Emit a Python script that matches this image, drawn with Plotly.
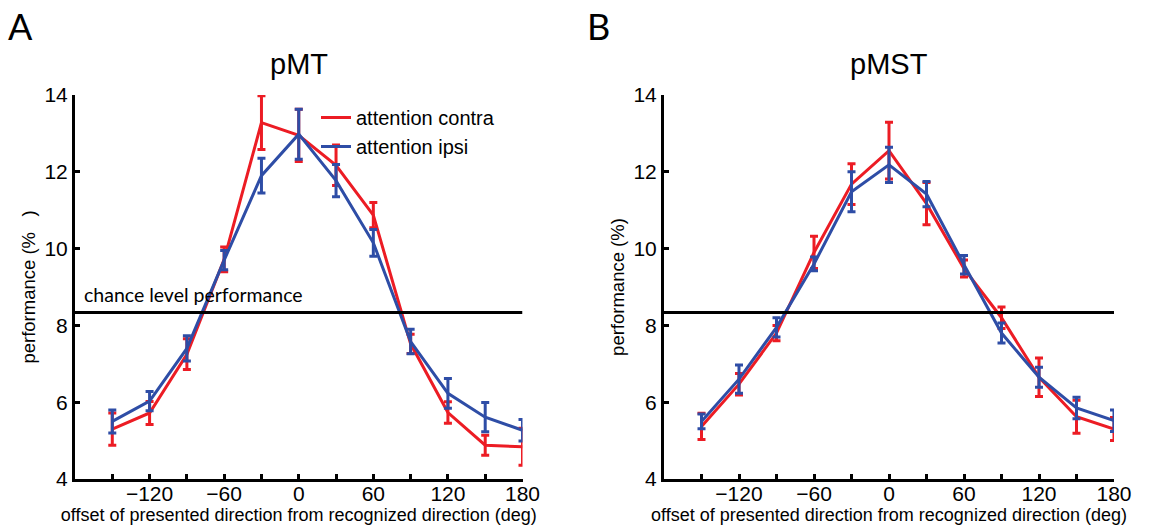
import plotly.graph_objects as go

# Offset of presented direction from recognized direction (deg)
offsets = [-150, -120, -90, -60, -30, 0, 30, 60, 90, 120, 150, 180]

# pMT performance (%) and standard errors
pmt_contra = [5.30, 5.72, 7.25, 9.72, 13.28, 12.95, 12.17, 10.87, 7.52, 5.73, 4.88, 4.84]
pmt_contra_err = [0.42, 0.30, 0.40, 0.32, 0.70, 0.68, 0.53, 0.33, 0.25, 0.28, 0.26, 0.48]
pmt_ipsi = [5.50, 6.03, 7.40, 9.70, 11.90, 12.98, 11.77, 10.15, 7.58, 6.23, 5.61, 5.27]
pmt_ipsi_err = [0.30, 0.25, 0.33, 0.25, 0.45, 0.65, 0.42, 0.35, 0.32, 0.39, 0.38, 0.28]

# pMST performance (%) and standard errors
pmst_contra = [5.37, 6.47, 7.80, 9.90, 11.68, 12.55, 11.17, 9.48, 8.20, 6.65, 5.62, 5.30]
pmst_contra_err = [0.34, 0.28, 0.20, 0.42, 0.53, 0.74, 0.55, 0.22, 0.28, 0.50, 0.43, 0.30]
pmst_ipsi = [5.50, 6.60, 7.95, 9.60, 11.48, 12.18, 11.42, 9.58, 7.80, 6.65, 5.85, 5.52]
pmst_ipsi_err = [0.19, 0.37, 0.25, 0.18, 0.52, 0.46, 0.33, 0.24, 0.26, 0.26, 0.28, 0.28]

chance = 100 / 12  # 12 possible directions

x_tickvals = [-150, -120, -90, -60, -30, 0, 30, 60, 90, 120, 150, 180]
x_ticktext = ["", "\u2212120", "", "\u221260", "", "0", "", "60", "", "120", "", "180"]
y_tickvals = [4, 6, 8, 10, 12, 14]

RED = "#EC1C24"
BLUE = "#2E4DA6"
W, H = 1167, 527
SANS = "Liberation Sans"

fig = go.Figure()


def add_series(y, err, color, name, xa, ya, show):
    fig.add_trace(go.Scatter(
        x=offsets, y=y, mode="lines", name=name,
        line=dict(color=color, width=3),
        error_y=dict(type="data", array=err, visible=True,
                     color=color, thickness=3, width=4),
        xaxis=xa, yaxis=ya, showlegend=show, legendgroup=name,
    ))


add_series(pmt_contra, pmt_contra_err, RED, "attention contra", "x", "y", True)
add_series(pmt_ipsi, pmt_ipsi_err, BLUE, "attention ipsi", "x", "y", True)
add_series(pmst_contra, pmst_contra_err, RED, "attention contra", "x2", "y2", False)
add_series(pmst_ipsi, pmst_ipsi_err, BLUE, "attention ipsi", "x2", "y2", False)

# chance-level reference lines
for xa, ya in (("x", "y"), ("x2", "y2")):
    fig.add_trace(go.Scatter(
        x=[-180, 180], y=[chance, chance], mode="lines",
        line=dict(color="black", width=3),
        xaxis=xa, yaxis=ya, showlegend=False, hoverinfo="skip",
    ))

y_dom = [1 - 479 / H, 1 - 95 / H]
x_dom1 = [75 / W, 522.5 / W]
x_dom2 = [664 / W, 1114 / W]

tick_font = dict(family=SANS, size=21, color="black")
title_font = dict(family=SANS, size=18.5, color="black")

xaxis_common = dict(
    range=[-180, 180], tickvals=x_tickvals, ticktext=x_ticktext,
    ticks="inside", ticklen=5, tickwidth=2.5, tickcolor="black",
    ticklabelstandoff=-6,
    showline=True, linecolor="black", linewidth=3, mirror=False,
    showgrid=False, zeroline=False, tickfont=tick_font, automargin=False,
    title=dict(text="offset of presented direction from recognized direction (deg)",
               font=dict(family=SANS, size=18, color="black"), standoff=2),
)
yaxis_common = dict(
    range=[4, 14], tickvals=y_tickvals,
    ticks="inside", ticklen=5, tickwidth=2.5, tickcolor="black",
    showline=True, linecolor="black", linewidth=3, mirror=False,
    showgrid=False, zeroline=False, tickfont=tick_font, automargin=False,
)

fig.update_layout(
    width=W, height=H, autosize=False,
    template="none",
    font=dict(family=SANS, color="black"),
    margin=dict(l=0, r=0, t=0, b=0, pad=0),
    paper_bgcolor="white", plot_bgcolor="white",
    xaxis=dict(domain=x_dom1, anchor="y", **xaxis_common),
    yaxis=dict(domain=y_dom, anchor="x",
               title=dict(text="performance (%   )", font=title_font, standoff=4),
               **yaxis_common),
    xaxis2=dict(domain=x_dom2, anchor="y2", **xaxis_common),
    yaxis2=dict(domain=y_dom, anchor="x2",
                title=dict(text="performance (%)", font=title_font, standoff=4),
                **yaxis_common),
    legend=dict(
        x=316 / W, y=1 - 98 / H, xanchor="left", yanchor="top",
        bgcolor="rgba(0,0,0,0)", borderwidth=0,
        font=dict(family=SANS, size=20, color="black"),
        tracegroupgap=0, itemwidth=30,
    ),
    showlegend=True,
)

annotations = [
    dict(text="pMT", x=(x_dom1[0] + x_dom1[1]) / 2, y=1 - 64 / H,
         font=dict(family=SANS, size=29, color="black")),
    dict(text="pMST", x=(x_dom2[0] + x_dom2[1]) / 2, y=1 - 64 / H,
         font=dict(family=SANS, size=29, color="black")),
    dict(text="A", x=20 / W, y=1 - 26 / H,
         font=dict(family="Lato", size=36, color="black")),
    dict(text="B", x=598 / W, y=1 - 26 / H,
         font=dict(family="Lato", size=36, color="black")),
    dict(text="chance level performance", x=82 / W, y=1 - 294 / H, xanchor="left",
         font=dict(family="Lato", size=19.5, color="black")),
]
for a in annotations:
    a.setdefault("xanchor", "center")
    a.update(xref="paper", yref="paper", yanchor="middle", showarrow=False)
fig.update_layout(annotations=annotations)

fig.write_html("out.html")
